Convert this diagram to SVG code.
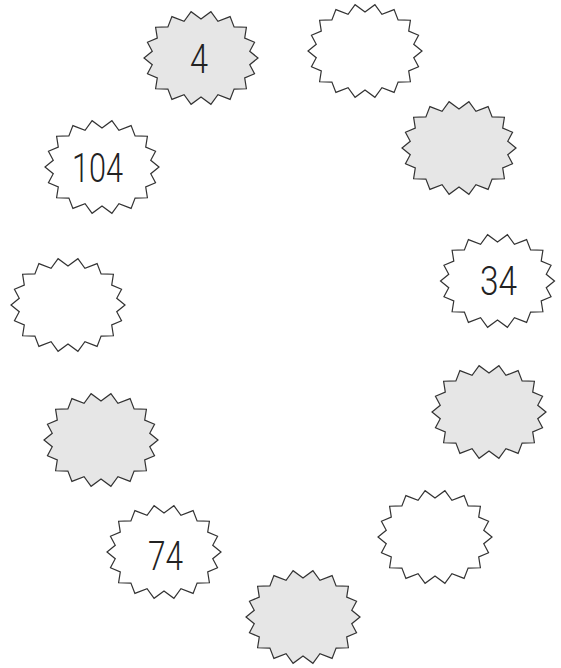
<svg xmlns="http://www.w3.org/2000/svg" xmlns:xlink="http://www.w3.org/1999/xlink" width="561" height="668" viewBox="0 0 561 668">
<style>
.star{stroke:#333;stroke-width:1.2;stroke-linejoin:miter}
.gray{fill:#e6e6e6}
.white{fill:#fff}
.num{font-family:Roboto,"Liberation Sans",Arial,sans-serif;font-weight:300;font-size:40px;fill:#222;text-anchor:middle}
</style>
<defs>
<polygon id="burst" points="57,0 48.75,6.77 53.56,15.73 43.7,19.9 45.4,30.75 33.1,31.1 29.1,41.4 16.93,36.65 9.9,46.3 0,39 -9.9,46.3 -16.93,36.65 -29.1,41.4 -33.1,31.1 -45.4,30.75 -43.7,19.9 -53.56,15.73 -48.75,6.77 -57,0 -48.75,-6.77 -53.56,-15.73 -43.7,-19.9 -45.4,-30.75 -33.1,-31.1 -29.1,-41.4 -16.93,-36.65 -9.9,-46.3 0,-39 9.9,-46.3 16.93,-36.65 29.1,-41.4 33.1,-31.1 45.4,-30.75 43.7,-19.9 53.56,-15.73 48.75,-6.77"/>
</defs>
<rect width="561" height="668" fill="#fff"/>
<g id="n4"><use xlink:href="#burst" href="#burst" class="star gray" transform="translate(201,58)"/><text class="num" x="199" y="73" textLength="18" lengthAdjust="spacingAndGlyphs">4</text></g>
<g id="n_top_right"><use xlink:href="#burst" href="#burst" class="star white" transform="translate(365,51)"/></g>
<g id="n_right_gray"><use xlink:href="#burst" href="#burst" class="star gray" transform="translate(459,148)"/></g>
<g id="n34"><use xlink:href="#burst" href="#burst" class="star white" transform="translate(497.5,281)"/><text class="num" x="498.5" y="295" textLength="37" lengthAdjust="spacingAndGlyphs">34</text></g>
<g id="n_right_gray2"><use xlink:href="#burst" href="#burst" class="star gray" transform="translate(489,412)"/></g>
<g id="n_bottom_right"><use xlink:href="#burst" href="#burst" class="star white" transform="translate(435,537)"/></g>
<g id="n_bottom"><use xlink:href="#burst" href="#burst" class="star gray" transform="translate(303,617)"/></g>
<g id="n74"><use xlink:href="#burst" href="#burst" class="star white" transform="translate(164,552)"/><text class="num" x="165.5" y="570" textLength="35" lengthAdjust="spacingAndGlyphs">74</text></g>
<g id="n_left_gray"><use xlink:href="#burst" href="#burst" class="star gray" transform="translate(101,440)"/></g>
<g id="n_left_white"><use xlink:href="#burst" href="#burst" class="star white" transform="translate(68,305)"/></g>
<g id="n104"><use xlink:href="#burst" href="#burst" class="star white" transform="translate(102,167)"/><text class="num" x="97.5" y="182" textLength="51" lengthAdjust="spacingAndGlyphs">104</text></g>
</svg>
